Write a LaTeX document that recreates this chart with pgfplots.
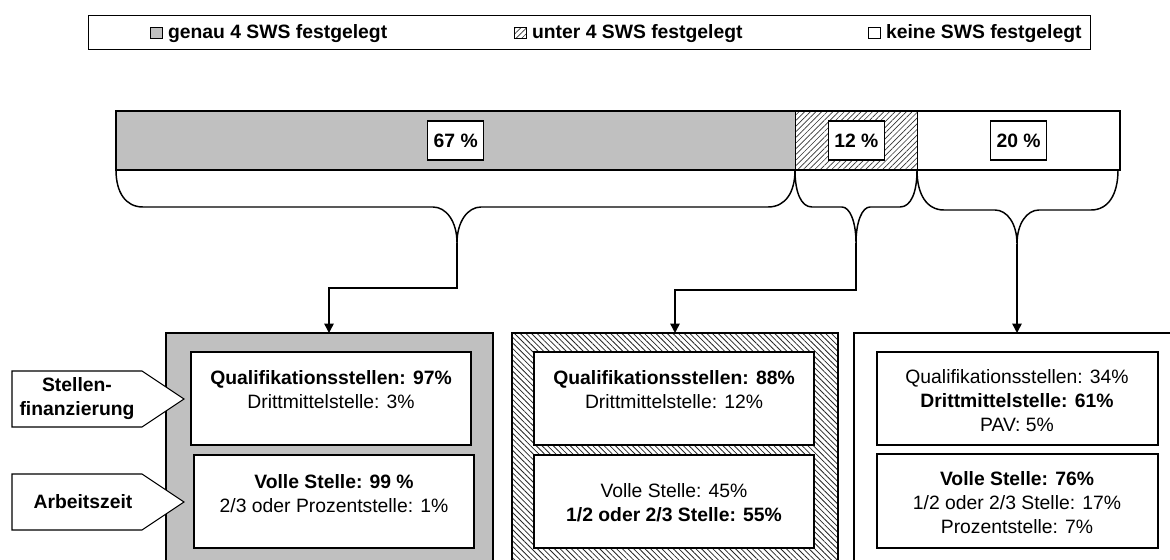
\documentclass[border=0pt]{standalone}
\usepackage{fontspec}
\setmainfont{Liberation Sans}
\usepackage{pgfplots}
\pgfplotsset{compat=1.18}
\usetikzlibrary{arrows.meta,patterns.meta}
\definecolor{barGrey}{HTML}{C0C0C0}
\newcommand{\fsz}{\fontsize{14.5}{18}\selectfont}
% brace: xl, xr, xc, ybar, yhoriz, ycusp, end curl, cusp curl
\newcommand{\sbrace}[8]{%
  \draw[line width=1.1pt]
    (#1,#4) .. controls (#1,{#4+0.6*(#5-#4)}) and ({#1+0.35*#7},#5) .. ({#1+#7},#5)
    -- ({#3-#8},#5) .. controls ({#3-0.45*#8},#5) and (#3,{#5+0.4*(#6-#5)}) .. (#3,#6)
    .. controls (#3,{#5+0.4*(#6-#5)}) and ({#3+0.45*#8},#5) .. ({#3+#8},#5)
    -- ({#2-#7},#5) .. controls ({#2-0.35*#7},#5) and (#2,{#4+0.6*(#5-#4)}) .. (#2,#4);}
\pgfplotsset{
  myleg/.style={legend image code/.code={%
      \node[inner sep=0pt, outer sep=0pt, minimum size=0pt] at (0pt,0pt) {};
      \draw[##1,line width=0.5pt] (46.5pt,-4.25pt) rectangle (55pt,4.25pt);
      \node[inner sep=0pt, outer sep=0pt, minimum size=0pt] at (57.5pt,0pt) {};}},
}
\begin{document}
\begin{tikzpicture}[x=0.75pt,y=-0.75pt]
\useasboundingbox (0,0) rectangle (1170,560);
\clip (0,0) rectangle (1170,560);
\begin{axis}[
  at={(87pt,-127.5pt)}, anchor=south west,
  scale only axis, width=753pt, height=44.25pt,
  xmin=0, xmax=99, ymin=-0.5, ymax=0.5,
  axis lines=none, xtick=\empty, ytick=\empty,
  xbar stacked, bar width=44.25pt, clip=false,
  legend columns=3, legend cell align=left,
  legend style={at={(axis description cs:-0.02789,2.6271)}, anchor=north west,
    draw=black, line width=1.1pt, inner xsep=0pt, inner ysep=3.75pt,
    font=\fontsize{14.5}{17}\selectfont\bfseries,
    nodes={inner sep=2pt, text height=11pt, text depth=3pt}},
]
\addplot[fill=barGrey, draw=black, line width=0.8pt, myleg] coordinates {(67,0)};
\addlegendentry{\makebox[211.5pt][l]{genau 4 SWS festgelegt}}
\addplot[draw=black, line width=0.8pt, pattern={Lines[angle=45,distance=3pt,line width=0.5pt]}, pattern color=black!80, myleg] coordinates {(12,0)};
\addlegendentry{\makebox[204pt][l]{unter 4 SWS festgelegt}}
\addplot[fill=white, draw=black, line width=0.8pt, myleg] coordinates {(20,0)};
\addlegendentry{\makebox[151.5pt][l]{keine SWS festgelegt}}
\coordinate (L1) at (axis cs:33.5,0);
\coordinate (L2) at (axis cs:73,0);
\coordinate (L3) at (axis cs:89,0);
\end{axis}
\tikzset{lbl/.style={draw=black, line width=0.8pt, fill=white, minimum width=42pt, minimum height=29.25pt, inner sep=0pt, font=\fsz\bfseries}}
\node[lbl] at (L1) {67 \%};
\node[lbl] at (L2) {12 \%};
\node[lbl] at (L3) {20 \%};

% braces
\sbrace{116}{795}{457}{170}{207}{243}{27}{24}
\sbrace{795}{917}{856}{170}{207}{243}{17}{14}
\sbrace{917}{1118}{1017}{170}{210}{244}{27}{22}

% connectors
\draw[line width=1.1pt, -{Triangle[width=7pt,length=7pt]}] (457,243) -- (457,288) -- (329,288) -- (329,333);
\draw[line width=1.1pt, -{Triangle[width=7pt,length=7pt]}] (856,243) -- (856,290) -- (675,290) -- (675,333);
\draw[line width=1.1pt, -{Triangle[width=7pt,length=7pt]}] (1017,244) -- (1017,333);

% outer boxes
\draw[line width=1.1pt, fill=barGrey] (166,333) rectangle (493,575);
\draw[line width=1.1pt, preaction={fill=white}, pattern={Lines[angle=-45,distance=3pt,line width=0.6pt]}, pattern color=black!85] (512,333) rectangle (838,575);
\draw[line width=1.1pt, fill=white] (854,333) rectangle (1195,575);

% inner boxes
\draw[line width=0.8pt, fill=white] (191,352) rectangle (471,445);
\draw[line width=0.8pt, fill=white] (194,455) rectangle (474,548);
\draw[line width=0.8pt, fill=white] (534,352) rectangle (814,445);
\draw[line width=0.8pt, fill=white] (534,455) rectangle (814,548);
\draw[line width=1.4pt, fill=white] (877,352) rectangle (1158,445);
\draw[line width=1.4pt, fill=white] (877,454) rectangle (1158,548);

% box texts
\node[font=\fsz, align=center] at (331,390) {\textbf{Qualifikationsstellen: 97\%}\\Drittmittelstelle: 3\%};
\node[font=\fsz, align=center] at (334,494) {\textbf{Volle Stelle: 99 \%}\\2/3 oder Prozentstelle: 1\%};
\node[font=\fsz, align=center] at (674,390) {\textbf{Qualifikationsstellen: 88\%}\\Drittmittelstelle: 12\%};
\node[font=\fsz, align=center] at (674,503) {Volle Stelle: 45\%\\\textbf{1/2 oder 2/3 Stelle: 55\%}};
\node[font=\fsz, align=center] at (1017,401) {Qualifikationsstellen: 34\%\\\textbf{Drittmittelstelle: 61\%}\\PAV: 5\%};
\node[font=\fsz, align=center] at (1017,503) {\textbf{Volle Stelle: 76\%}\\1/2 oder 2/3 Stelle: 17\%\\Prozentstelle: 7\%};

% side labels
\draw[line width=0.8pt, fill=white] (12,371) -- (142,371) -- (184,399) -- (142,427) -- (12,427) -- cycle;
\draw[line width=0.8pt, fill=white] (12,474) -- (142,474) -- (184,502) -- (142,530) -- (12,530) -- cycle;
\node[font=\fsz\bfseries, align=center] at (77,399) {Stellen-\\finanzierung};
\node[font=\fsz\bfseries] at (83,502) {Arbeitszeit};
\end{tikzpicture}
\end{document}
